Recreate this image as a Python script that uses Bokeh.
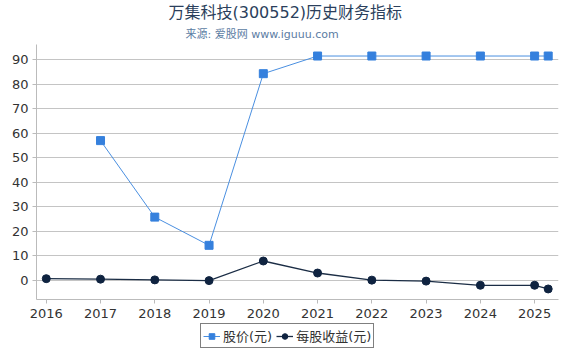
from bokeh.plotting import figure
from bokeh.layouts import column
from bokeh.models import Title, Legend, LegendItem, FixedTicker, Range1d
from bokeh.embed import file_html
from bokeh.resources import INLINE

price_x = [2017, 2018, 2019, 2020, 2021, 2022, 2023, 2024, 2025, 2025.25]
price_y = [57.0, 25.8, 14.3, 84.3, 91.5, 91.5, 91.5, 91.5, 91.5, 91.5]
eps_x = [2016, 2017, 2018, 2019, 2020, 2021, 2022, 2023, 2024, 2025, 2025.25]
eps_y = [0.7, 0.5, 0.2, -0.1, 7.9, 3.0, 0.1, -0.3, -2.0, -2.0, -3.5]
x_ticks = [2016, 2017, 2018, 2019, 2020, 2021, 2022, 2023, 2024, 2025]
y_ticks = [0, 10, 20, 30, 40, 50, 60, 70, 80, 90]
labels = ["股价(元)", "每股收益(元)"]

FONT = "DejaVu Sans, Noto Sans CJK SC"
PRICE_LINE, PRICE_MARK = "#4a8fe0", "#3580dd"
EPS_LINE, EPS_MARK = "#1b2d45", "#0f2340"

p = figure(width=570, height=323, output_backend="svg", toolbar_location=None,
           x_range=Range1d(2015.82, 2025.44), y_range=Range1d(-7.8, 96.2),
           min_border_left=36, min_border_right=12, min_border_top=0, min_border_bottom=24)
p.outline_line_color = None
p.background_fill_color = "white"

p.add_layout(Title(text="来源: 爱股网 www.iguuu.com", align="left", offset=149,
                   text_font=FONT, text_font_size="11px", text_font_style="normal",
                   text_color="#5b7ca3", standoff=8), "above")
p.add_layout(Title(text="万集科技(300552)历史财务指标", align="left", offset=132,
                   text_font=FONT, text_font_size="16px", text_font_style="normal",
                   text_color="#2b3f5c", standoff=0), "above")

p.xgrid.visible = False
p.ygrid.grid_line_color = "#c4c4c4"
p.ygrid.grid_line_width = 1

p.xaxis.ticker = FixedTicker(ticks=x_ticks)
p.yaxis.ticker = FixedTicker(ticks=y_ticks)
for ax in (p.xaxis, p.yaxis):
    ax.major_label_text_font = FONT
    ax.major_label_text_font_size = "13px"
    ax.major_label_text_color = "#333333"
    ax.axis_line_color = "#bbbbbb"
    ax.major_tick_line_color = "#bbbbbb"
    ax.minor_tick_line_color = None
    ax.major_tick_in = 0
    ax.major_tick_out = 4
p.yaxis.major_label_standoff = 4

p.line(price_x, price_y, line_color=PRICE_LINE, line_width=1)
p.scatter(price_x, price_y, marker="square", size=8, fill_color=PRICE_MARK,
          line_color=PRICE_MARK)
p.line(eps_x, eps_y, line_color=EPS_LINE, line_width=1.3)
p.scatter(eps_x, eps_y, marker="circle", size=8, fill_color=EPS_MARK,
          line_color=EPS_MARK)

# legend strip below the chart (proxy renderers placed outside the visible range)
q = figure(width=570, height=27, output_backend="svg", toolbar_location=None,
           x_range=Range1d(0, 1), y_range=Range1d(0, 1),
           min_border=0)
q.axis.visible = False
q.grid.visible = False
q.outline_line_color = None
ql1 = q.line([-5, -4], [-5, -4], line_color=PRICE_LINE, line_width=1)
qm1 = q.scatter([-5], [-5], marker="square", size=8, fill_color=PRICE_MARK, line_color=PRICE_MARK)
ql2 = q.line([-5, -4], [-5, -4], line_color=EPS_LINE, line_width=1.3)
qm2 = q.scatter([-5], [-5], marker="circle", size=8, fill_color=EPS_MARK, line_color=EPS_MARK)

legend = Legend(items=[LegendItem(label=labels[0], renderers=[ql1, qm1]),
                       LegendItem(label=labels[1], renderers=[ql2, qm2])],
                orientation="horizontal", location=(164, 2),
                label_text_font=FONT, label_text_font_size="13px",
                label_text_color="#333333",
                border_line_color="black", border_line_width=1,
                padding=2, spacing=4, margin=0,
                glyph_width=17, glyph_height=14, label_standoff=3,
                label_height=14)
q.add_layout(legend)

layout = column(p, q, spacing=0)
open("out.html", "w").write(file_html(layout, INLINE))
